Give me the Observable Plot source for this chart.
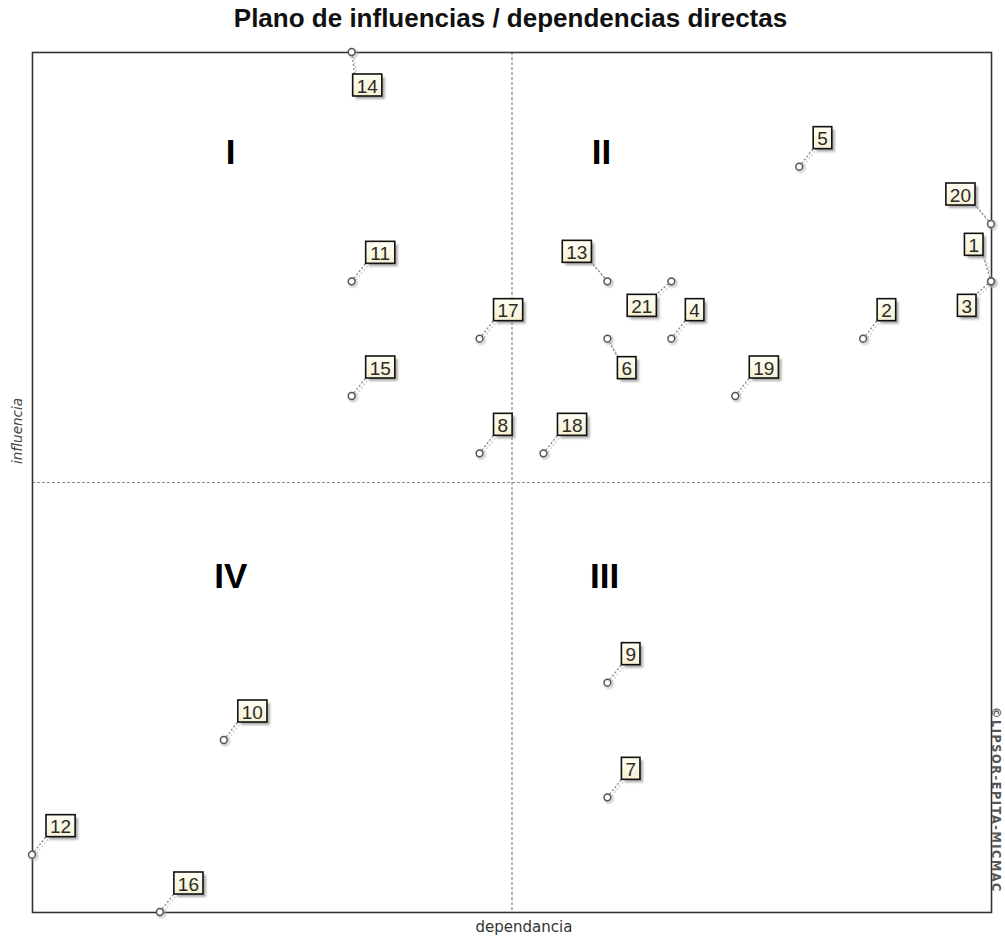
<!DOCTYPE html>
<html>
<head>
<meta charset="utf-8">
<script src="https://cdn.jsdelivr.net/npm/d3@7"></script>
<script src="https://cdn.jsdelivr.net/npm/@observablehq/plot@0.6"></script>
<style>
  html, body { margin: 0; padding: 0; background: #fff; }
  #title { width: 1005px; height: 40px; box-sizing: border-box; padding-top: 3px; text-align: center;
           font: bold 26px "Liberation Sans", Arial, sans-serif; color: #111; padding-left: 16px; }
  #chart svg { display: block; }
</style>
</head>
<body>
<div id="title">Plano de influencias / dependencias directas</div>
<div id="chart"></div>
<script>
// Variables (labels) 1..21
const ids = ["1","2","3","4","5","6","7","8","9","10","11","12","13","14","15","16","17","18","19","20","21"];
// Direct dependence (x) and influence (y), read from the plane
const dependence = [15, 13, 15, 10, 12, 9, 9, 7, 9, 3, 5, 0, 9, 5, 5, 2, 7, 8, 11, 15, 10];
const influence  = [11, 10, 11, 10, 13, 10, 2, 8, 4, 3, 11, 1, 11, 15, 9, 0, 10, 8, 9, 12, 11];
// Where each label box sits around its point
const placement = ["n","ne","sw","ne","ne","se","ne","ne","ne","ne","ne","ne","nw","s","ne","ne","ne","ne","ne","nw","sw"];
// Quadrant names
const quadrantNames = ["I", "II", "III", "IV"];
const quadrantX = [3.1, 8.9, 8.95, 3.1];
const quadrantY = [13.25, 13.25, 5.85, 5.85];

const points = ids.map((id, i) => ({id, x: dependence[i], y: influence[i], pos: placement[i]}));
const quads = quadrantNames.map((q, i) => ({q, x: quadrantX[i], y: quadrantY[i]}));

const xMid = (d3.min(dependence) + d3.max(dependence)) / 2;
const yMid = (d3.min(influence) + d3.max(influence)) / 2;

const W = 1005, H = 899;
const plot = Plot.plot({
  width: W,
  height: H,
  marginTop: 12,
  marginLeft: 32,
  marginRight: 14,
  marginBottom: 27,
  x: {domain: [d3.min(dependence), d3.max(dependence)], axis: null},
  y: {domain: [d3.min(influence), d3.max(influence)], axis: null},
  style: {background: "#fff", overflow: "visible"},
  marks: [
    Plot.ruleX([xMid], {stroke: "#8a8a8a", strokeWidth: 1.2, strokeDasharray: "3,2"}),
    Plot.ruleY([yMid], {stroke: "#8a8a8a", strokeWidth: 1.2, strokeDasharray: "3,2"}),
    Plot.frame({stroke: "#333", strokeWidth: 1.6}),
    Plot.text(quads, {x: "x", y: "y", text: "q", fontSize: 35, fontWeight: "bold",
      fontFamily: "Liberation Sans, Arial, sans-serif", fill: "#000"})
  ]
});

const sx = plot.scale("x"), sy = plot.scale("y");
const svg = d3.select(plot);

// shadow filter
const defs = svg.append("defs");
const f = defs.append("filter").attr("id", "blur").attr("x", "-50%").attr("y", "-50%").attr("width", "200%").attr("height", "200%");
f.append("feGaussianBlur").attr("stdDeviation", 1.2);
const grad = defs.append("linearGradient").attr("id", "boxfill").attr("x1", 0).attr("y1", 0).attr("x2", 0).attr("y2", 1);
grad.append("stop").attr("offset", "0%").attr("stop-color", "#fffff4");
grad.append("stop").attr("offset", "100%").attr("stop-color", "#f6f0d2");

const fs = 19, boxH = 22;
function boxGeom(d) {
  const px = sx.apply(d.x), py = sy.apply(d.y);
  const w = d.id.length * fs * 0.556 + 8;
  let left, top, cx, cy; // cx,cy = leader end point
  switch (d.pos) {
    case "ne": left = px + 14; top = py - 18 - boxH; cx = left; cy = top + boxH; break;
    case "nw": left = px - 16 - w; top = py - 19 - boxH; cx = left + w; cy = top + boxH; break;
    case "sw": left = px - 15 - w; top = py + 13; cx = left + w; cy = top; break;
    case "se": left = px + 10; top = py + 18; cx = left; cy = top; break;
    case "s":  left = px + 1; top = py + 22; cx = left + 2; cy = top; break;
    case "n":  left = px - 8 - w; top = py - 26 - boxH; cx = left + w; cy = top + boxH; break;
  }
  return {px, py, w, left, top, cx, cy};
}

const layer = svg.append("g");
const geo = points.map(d => ({d, g: boxGeom(d)}));

// leader lines
geo.forEach(({g}) => {
  const ang = Math.atan2(g.cy - g.py, g.cx - g.px);
  const x0 = g.px + Math.cos(ang) * 4, y0 = g.py + Math.sin(ang) * 4;
  layer.append("line").attr("x1", x0 + 2).attr("y1", y0 + 2).attr("x2", g.cx + 2).attr("y2", g.cy + 2)
    .attr("stroke", "#cfcfcf").attr("stroke-width", 1.4).attr("stroke-dasharray", "2,2");
  layer.append("line").attr("x1", x0).attr("y1", y0).attr("x2", g.cx).attr("y2", g.cy)
    .attr("stroke", "#8c8c8c").attr("stroke-width", 1.4).attr("stroke-dasharray", "2,2");
});
// point circles
geo.forEach(({g}) => {
  layer.append("circle").attr("cx", g.px + 1.5).attr("cy", g.py + 1.5).attr("r", 3.6)
    .attr("fill", "none").attr("stroke", "#aaa").attr("stroke-width", 1.6).attr("filter", "url(#blur)");
  layer.append("circle").attr("cx", g.px).attr("cy", g.py).attr("r", 3.4)
    .attr("fill", "#fff").attr("stroke", "#555").attr("stroke-width", 1.5);
});
// label boxes
geo.forEach(({d, g}) => {
  layer.append("rect").attr("x", g.left + 3).attr("y", g.top + 3).attr("width", g.w).attr("height", boxH)
    .attr("fill", "#888").attr("opacity", 0.7).attr("filter", "url(#blur)");
  layer.append("rect").attr("x", g.left).attr("y", g.top).attr("width", g.w).attr("height", boxH)
    .attr("fill", "url(#boxfill)").attr("stroke", "#111").attr("stroke-width", 1.6);
  layer.append("text").attr("x", g.left + g.w / 2).attr("y", g.top + boxH / 2 + 1)
    .attr("text-anchor", "middle").attr("dominant-baseline", "central")
    .attr("font-family", "Liberation Sans, Arial, sans-serif").attr("font-size", fs)
    .attr("fill", "#2a2a2a").text(d.id);
});

// axis names
svg.append("text").attr("x", 524).attr("y", 892).attr("text-anchor", "middle")
  .attr("font-family", "DejaVu Sans, Verdana, sans-serif").attr("font-size", 15).attr("fill", "#333")
  .text("dependancia");
svg.append("text").attr("transform", "translate(22,391) rotate(-90)").attr("text-anchor", "middle")
  .attr("font-family", "DejaVu Sans, Verdana, sans-serif").attr("font-size", 13.5).attr("fill", "#444")
  .attr("font-style", "italic")
  .text("influencia");
svg.append("text").attr("transform", "translate(992,760) rotate(90)").attr("text-anchor", "middle")
  .attr("font-family", "DejaVu Sans Condensed, DejaVu Sans, sans-serif").attr("font-size", 12.5).attr("font-weight", "bold")
  .attr("letter-spacing", 1.6)
  .attr("fill", "#555").text("©LIPSOR-EPITA-MICMAC");

document.getElementById("chart").appendChild(plot);
</script>
</body>
</html>
